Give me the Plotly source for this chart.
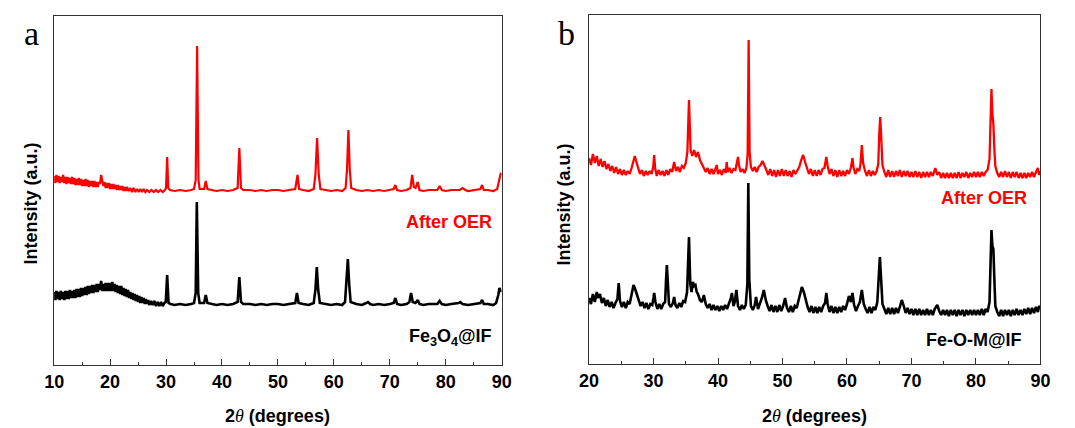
import plotly.graph_objects as go

W, H = 1075, 428

# ---------------- data (2theta in degrees, intensity in a.u.) ----------------
A_RED = [(10.0,189),(10.2,182),(10.4,190),(10.6,183),(10.8,189),(11.0,182),(11.2,188),(11.4,183),(11.6,190),(11.8,182),
 (12.0,188),(12.2,181),(12.4,188),(12.6,182),(12.8,187),(13.0,181),(13.2,188),(13.4,181),(13.6,187),(13.8,180),
 (14.0,186),(14.2,180),(14.4,187),(14.6,180),(14.8,186),(15.0,179),(15.2,185),(15.4,179),(15.6,186),(15.8,179),
 (16.0,185),(16.2,178),(16.4,184),(16.6,179),(16.8,184),(17.0,178),(17.2,184),(17.4,178),(17.6,183),(17.8,178),
 (18.0,183),(18.2,181),(18.4,190),(18.6,183),(18.8,179),(19.0,183),(19.2,177),(19.4,182),(19.6,177),(19.8,182),
 (20.0,176),(20.2,181),(20.4,176),(20.6,181),(20.8,176),(21.0,180),(21.2,175),(21.4,180),(21.6,175),(21.8,179),
 (22.0,175),(22.2,179),(22.4,174),(22.6,178),(22.8,174),(23.0,178),(23.3,174),(23.6,177),(23.9,173),(24.2,177),
 (24.5,173),(24.8,176),(25.1,173),(25.4,176),(25.7,173),(26.0,176),(26.3,173),(26.6,175),(27.0,173),(27.4,175),
 (27.8,173),(28.2,175),(28.6,173),(29.0,175),(29.4,173),(29.8,175),
 (30.0,177),(30.2,208),(30.4,177),(30.7,175),(31.5,174),(32.5,175),(33.5,174),(34.5,175),(35.0,176),
 (35.3,185),(35.55,319),(35.8,185),(36.0,176),(36.8,176),(37.1,184),(37.4,176),(38.0,175),(39.0,174),(40.0,175),
 (41.0,174),(42.0,175),(42.8,177),(43.1,217),(43.4,177),(43.8,175),(45.0,175),(46.0,174),(47.0,175),(48.0,174),
 (49.0,175),(50.0,175),(51.0,174),(52.0,175),(53.1,176),(53.5,190),(53.8,176),(54.5,175),(55.5,174),(56.4,176),
 (56.7,190),(57.0,227),(57.3,190),(57.6,176),(58.5,175),(59.5,174),(60.5,175),(61.5,174),(62.1,177),(62.35,195),
 (62.6,235),(62.85,195),(63.1,177),(64.0,175),(65.0,174),(66.0,175),(67.0,174),(68.0,175),(69.0,174),(70.0,175),
 (70.7,176),(71.0,180),(71.3,175),(72.0,174),(73.0,175),(73.7,177),(74.0,190),(74.3,178),(74.6,177),(75.0,183),
 (75.3,175),(76.0,174),(77.0,175),(78.5,175),(78.9,179),(79.3,175),(80.0,174),(81.0,175),(82.5,175),(83.0,177),
 (83.5,175),(84.0,174),(85.0,175),(86.2,176),(86.5,180),(86.8,175),(87.5,175),(88.5,174),(89.2,176),(89.6,185),
 (89.8,191),(90.0,190)]

A_BLACK = [(10.0,73),(10.2,65),(10.4,74),(10.6,66),(10.8,73),(11.0,65),(11.2,74),(11.4,66),(11.6,73),(11.8,65),
 (12.0,74),(12.2,66),(12.4,74),(12.6,66),(12.8,75),(13.0,67),(13.2,74),(13.4,67),(13.6,75),(13.8,67),
 (14.0,76),(14.2,68),(14.4,76),(14.6,68),(14.8,77),(15.0,69),(15.2,77),(15.4,70),(15.6,78),(15.8,70),
 (16.0,79),(16.2,71),(16.4,79),(16.6,72),(16.8,80),(17.0,72),(17.2,80),(17.4,73),(17.6,81),(17.8,73),
 (18.0,81),(18.2,75),(18.4,84),(18.6,74),(18.8,81),(19.0,74),(19.2,82),(19.4,74),(19.6,82),(19.8,74),
 (20.0,82),(20.2,74),(20.4,83),(20.6,74),(20.8,81),(21.0,73),(21.2,80),(21.4,72),(21.6,79),(21.8,71),
 (22.0,79),(22.2,70),(22.4,77),(22.6,69),(22.8,76),(23.0,68),(23.2,75),(23.4,67),(23.6,73),(23.8,66),
 (24.0,72),(24.2,65),(24.4,71),(24.6,64),(24.8,70),(25.0,63),(25.2,69),(25.4,62),(25.6,68),(25.8,62),
 (26.0,67),(26.2,61),(26.4,66),(26.6,61),(26.8,65),(27.0,60),(27.3,64),(27.6,60),(27.9,64),(28.2,59),
 (28.5,63),(28.8,59),(29.1,63),(29.4,59),(29.7,62),(29.95,63),
 (30.2,90),(30.45,62),
 (30.8,61),(31.5,60),(32.5,61),(33.5,60),(34.5,61),(35.0,62),(35.3,72),(35.5,163),(35.75,72),(36.0,62),
 (36.8,62),(37.1,70),(37.4,62),(38.0,61),(39.0,60),(40.0,61),(41.0,60),(42.0,61),(42.8,63),(43.1,88),
 (43.4,63),(43.8,61),(45.0,61),(46.0,60),(47.0,61),(48.0,60),(49.0,61),(50.0,61),(51.0,60),(52.0,61),
 (53.1,62),(53.4,72),(53.7,62),(54.5,61),(55.5,60),(56.4,62),(56.7,75),(56.95,98),(57.2,75),(57.5,62),
 (58.5,61),(59.5,60),(60.5,61),(61.5,60),(62.0,63),(62.25,80),(62.5,106),(62.75,80),(63.0,63),(64.0,61),
 (65.0,60),(65.8,62),(66.1,63),(66.5,61),(67.0,60),(68.0,61),(69.0,60),(70.0,61),(70.7,62),(71.0,67),
 (71.3,61),(72.0,60),(73.0,61),(73.5,63),(73.8,72),(74.1,63),(74.6,62),(75.0,65),(75.3,61),(76.0,60),
 (77.0,61),(78.5,61),(78.9,64),(79.3,61),(80.0,60),(81.0,61),(82.3,62),(82.6,63),(83.0,61),(84.0,60),
 (85.0,61),(86.2,62),(86.5,65),(86.8,61),(87.5,61),(88.5,60),(89.0,62),(89.4,70),(89.6,77),(89.8,74),
 (90.0,74)]

B_RED = [(20.0,206),(20.3,199),(20.6,210),(20.9,201),(21.2,208),(21.5,198),(21.8,205),(22.1,197),(22.4,203),(22.7,195),
 (23.0,200),(23.3,193),(23.6,198),(23.9,191),(24.2,197),(24.5,190),(24.8,195),(25.1,189),(25.4,194),(25.7,189),
 (26.0,193),(26.3,190),(26.6,196),(26.9,203),(27.1,208),(27.3,203),(27.6,197),(27.9,190),(28.2,194),(28.5,188),
 (28.8,193),(29.1,189),(29.4,193),(29.7,190),(29.95,197),(30.1,209),(30.25,196),(30.5,188),(30.8,194),(31.1,189),
 (31.4,193),(31.7,188),(32.0,194),(32.3,189),(32.6,195),(32.9,192),(33.2,202),(33.5,193),(33.8,197),(34.1,192),
 (34.4,198),(34.7,196),(35.0,201),(35.25,212),(35.5,264),(35.75,214),(36.0,208),(36.3,214),(36.6,207),(36.9,212),
 (37.2,204),(37.5,200),(37.8,195),(38.1,192),(38.4,196),(38.7,190),(39.0,195),(39.3,190),(39.6,195),(39.8,199),
 (40.0,190),(40.3,194),(40.6,189),(40.9,195),(41.2,191),(41.35,202),(41.5,192),(41.8,196),(42.1,191),(42.4,195),
 (42.7,194),(42.95,201),(43.1,207),(43.25,199),(43.5,192),(43.8,195),(44.1,191),(44.4,196),(44.6,210),(44.75,324),
 (44.9,212),(45.1,197),(45.4,193),(45.7,197),(46.0,192),(46.3,197),(46.6,199),(46.9,203),(47.2,199),(47.5,194),
 (47.8,189),(48.1,195),(48.4,188),(48.7,194),(49.0,187),(49.3,194),(49.6,188),(49.9,195),(50.2,188),(50.5,194),
 (50.8,188),(51.1,193),(51.4,187),(51.7,194),(52.0,190),(52.3,194),(52.6,197),(52.9,204),(53.2,209),(53.5,202),
 (53.8,195),(54.1,190),(54.4,195),(54.7,188),(55.0,194),(55.3,188),(55.6,194),(55.9,189),(56.2,195),(56.5,196),
 (56.8,207),(57.0,198),(57.3,190),(57.6,195),(57.9,188),(58.2,194),(58.5,187),(58.8,194),(59.1,188),(59.4,193),
 (59.7,188),(60.0,194),(60.3,190),(60.6,196),(60.85,206),(61.0,197),(61.3,190),(61.6,195),(61.9,193),(62.1,200),
 (62.3,219),(62.5,201),(62.8,193),(63.1,188),(63.4,194),(63.7,188),(64.0,193),(64.3,189),(64.6,193),(64.85,200),
 (65.0,230),(65.15,247),(65.3,228),(65.5,199),(65.8,192),(66.1,187),(66.4,194),(66.7,187),(67.0,193),(67.3,187),
 (67.6,193),(67.9,188),(68.2,194),(68.5,187),(68.8,193),(69.1,188),(69.4,193),(69.7,187),(70.0,192),(70.3,187),
 (70.6,193),(70.9,187),(71.2,192),(71.5,186),(71.8,192),(72.1,187),(72.4,192),(72.7,187),(73.0,192),(73.3,188),
 (73.7,196),(74.0,189),(74.3,192),(74.6,186),(74.9,191),(75.2,186),(75.5,191),(75.8,186),(76.1,191),(76.4,186),
 (76.7,191),(77.0,186),(77.3,192),(77.6,186),(77.9,191),(78.2,187),(78.5,192),(78.8,186),(79.1,191),(79.4,187),
 (79.7,192),(80.0,187),(80.3,192),(80.6,187),(80.9,192),(81.2,188),(81.5,192),(81.8,194),(82.1,205),(82.3,262),
 (82.4,275),(82.55,250),(82.7,240),(82.85,215),(83.0,198),(83.3,191),(83.6,187),(83.9,192),(84.2,187),(84.5,193),
 (84.8,187),(85.1,192),(85.4,186),(85.7,192),(86.0,187),(86.3,192),(86.6,186),(86.9,191),(87.2,186),(87.5,191),
 (87.8,186),(88.1,191),(88.4,187),(88.7,192),(89.0,187),(89.3,192),(89.6,196),(89.8,189),(90.0,193)]

B_BLACK = [(20.0,66),(20.3,60),(20.6,70),(20.9,62),(21.2,72),(21.4,66),(21.7,70),(22.0,61),(22.3,66),(22.6,58),
 (22.9,64),(23.2,57),(23.5,62),(23.8,56),(24.1,61),(24.4,65),(24.6,81),(24.8,63),(25.1,57),(25.4,62),
 (25.7,56),(26.0,62),(26.3,60),(26.6,70),(26.9,79),(27.1,76),(27.4,70),(27.7,63),(28.0,58),(28.3,62),
 (28.6,56),(28.9,61),(29.2,55),(29.5,60),(29.8,59),(30.0,66),(30.1,71),(30.3,62),(30.6,55),(30.9,60),
 (31.2,55),(31.5,60),(31.8,62),(31.95,85),(32.07,99),(32.2,84),(32.4,60),(32.7,57),(33.0,61),(33.2,67),
 (33.4,59),(33.7,56),(34.0,61),(34.3,57),(34.6,63),(34.9,62),(35.2,72),(35.5,127),(35.7,80),(35.9,72),
 (36.1,82),(36.3,78),(36.5,79),(36.7,72),(36.9,70),(37.2,64),(37.5,62),(37.8,69),(38.1,60),(38.4,56),
 (38.7,60),(39.0,54),(39.3,59),(39.6,54),(39.9,58),(40.2,53),(40.5,58),(40.8,54),(41.1,59),(41.4,55),
 (41.7,60),(42.0,66),(42.15,71),(42.4,58),(42.6,62),(42.85,74),(43.1,58),(43.4,54),(43.7,59),(44.0,55),
 (44.3,59),(44.55,80),(44.7,181),(44.85,85),(45.1,58),(45.4,54),(45.7,59),(45.9,67),(46.2,55),(46.5,60),
 (46.8,66),(47.1,74),(47.4,64),(47.7,58),(48.0,53),(48.3,59),(48.6,52),(48.9,58),(49.2,52),(49.5,59),
 (49.8,53),(50.1,58),(50.4,66),(50.7,56),(51.0,52),(51.3,58),(51.6,52),(51.9,58),(52.2,56),(52.5,64),
 (52.8,74),(53.0,77),(53.3,72),(53.6,64),(53.9,57),(54.2,52),(54.5,58),(54.8,51),(55.1,57),(55.4,51),
 (55.7,57),(56.0,52),(56.3,58),(56.6,61),(56.8,71),(57.0,60),(57.3,52),(57.6,58),(57.9,51),(58.2,57),
 (58.5,51),(58.8,57),(59.1,52),(59.4,58),(59.7,54),(60.0,60),(60.3,68),(60.6,62),(60.85,71),(61.1,59),
 (61.4,53),(61.7,58),(62.0,62),(62.3,74),(62.6,60),(62.9,55),(63.2,51),(63.5,57),(63.8,51),(64.1,57),
 (64.4,54),(64.7,62),(64.9,85),(65.1,107),(65.3,84),(65.5,60),(65.8,55),(66.1,50),(66.4,56),(66.7,50),
 (67.0,56),(67.3,50),(67.6,56),(67.9,51),(68.2,57),(68.5,64),(68.8,58),(69.1,51),(69.4,56),(69.7,50),
 (70.0,55),(70.3,49),(70.6,55),(70.9,49),(71.2,55),(71.5,49),(71.8,54),(72.1,49),(72.4,55),(72.7,49),
 (73.0,54),(73.3,49),(73.6,55),(74.0,59),(74.3,53),(74.6,49),(74.9,54),(75.2,49),(75.5,54),(75.8,48),
 (76.1,54),(76.4,49),(76.7,54),(77.0,48),(77.3,54),(77.6,49),(77.9,54),(78.2,48),(78.5,54),(78.8,49),
 (79.1,54),(79.4,49),(79.7,54),(80.0,49),(80.3,54),(80.6,49),(80.9,55),(81.2,49),(81.5,55),(81.8,52),
 (82.1,62),(82.3,120),(82.4,134),(82.55,118),(82.7,115),(82.85,85),(83.0,58),(83.3,52),(83.6,48),(83.9,54),
 (84.2,48),(84.5,54),(84.8,49),(85.1,54),(85.4,48),(85.7,54),(86.0,49),(86.3,55),(86.6,49),(86.9,54),
 (87.2,49),(87.5,55),(87.8,50),(88.1,56),(88.4,50),(88.7,56),(89.0,51),(89.3,57),(89.6,52),(89.8,58),
 (90.0,56)]

A_XTICKS = [10, 20, 30, 40, 50, 60, 70, 80, 90]
B_XTICKS = [20, 30, 40, 50, 60, 70, 80, 90]
LABELS_A = ["After OER", "Fe<sub>3</sub>O<sub>4</sub>@IF"]
LABELS_B = ["After OER", "Fe-O-M@IF"]

SANS = "Liberation Sans, Arial, sans-serif"
SERIF = "Liberation Serif, Times New Roman, serif"
RED = "#ff0000"

def px(x): return x / W
def py(y): return 1 - y / H

fig = go.Figure()

def add(data, color, width, xa, ya):
    xs = [p[0] for p in data]
    ys = [p[1] for p in data]
    fig.add_trace(go.Scatter(x=xs, y=ys, mode="lines", line=dict(color=color, width=width),
                             xaxis=xa, yaxis=ya, showlegend=False, hoverinfo="skip"))

add(A_RED, RED, 2.2, "x", "y")
add(A_BLACK, "black", 2.6, "x", "y")
add(B_RED, RED, 2.3, "x2", "y2")
add(B_BLACK, "black", 2.6, "x2", "y2")

axis_common = dict(showline=True, mirror=True, linecolor="#333333", linewidth=1.3,
                   showgrid=False, zeroline=False, ticks="inside", ticklen=6, tickwidth=1.3,
                   tickcolor="#333333",
                   tickfont=dict(family=SANS, size=18, color="black", weight="bold"),
                   minor=dict(ticks="inside", ticklen=3, tickwidth=1.3, tickcolor="#333333", dtick=5, showgrid=False))
yaxis_common = dict(showline=True, mirror=True, linecolor="#333333", linewidth=1.3,
                    showgrid=False, zeroline=False, showticklabels=False, ticks="", range=[0, 349])

fig.update_layout(
    width=W, height=H, margin=dict(l=0, r=0, t=0, b=0),
    paper_bgcolor="white", plot_bgcolor="white",
    xaxis=dict(domain=[px(45), px(501)], range=[10, 90], tickvals=A_XTICKS, anchor="y", **axis_common),
    yaxis=dict(domain=[py(365), py(16)], anchor="x", **yaxis_common),
    xaxis2=dict(domain=[px(590), px(1050)], range=[20, 90], tickvals=B_XTICKS, anchor="y2", **axis_common),
    yaxis2=dict(domain=[py(364), py(15)], anchor="x2", **yaxis_common),
)

ann = []
def text(x, y, s, size, color="black", family=SANS, xanchor="center", yanchor="middle", angle=0):
    ann.append(dict(x=px(x), y=py(y), xref="paper", yref="paper", text=s, showarrow=False,
                    font=dict(family=family, size=size, color=color), xanchor=xanchor, yanchor=yanchor,
                    textangle=angle))

THETA = "<span style='font-family:Liberation Serif;font-weight:normal'><i>θ</i></span>"

# panel letters
text(22, 34, "a", 34, family=SERIF)
text(567, 34, "b", 34, family=SERIF)
# y titles
text(21, 204, "<b>Intensity (a.u.)</b>", 18, angle=-90)
text(565, 204, "<b>Intensity (a.u.)</b>", 18, angle=-90)
# x titles
text(273, 416, "<b>2</b>" + THETA + "<b> (degrees)</b>", 18)
text(820, 416, "<b>2</b>" + THETA + "<b> (degrees)</b>", 18)
# sample labels
text(493, 222, "<b>" + LABELS_A[0] + "</b>", 18, color=RED, xanchor="right")
text(493, 337, "<b>" + LABELS_A[1] + "</b>", 18, xanchor="right")
text(1038, 198, "<b>" + LABELS_B[0] + "</b>", 18, color=RED, xanchor="right")
text(1033, 340, "<b>" + LABELS_B[1] + "</b>", 18, xanchor="right")

fig.update_layout(annotations=ann)
fig.write_html("out.html")
